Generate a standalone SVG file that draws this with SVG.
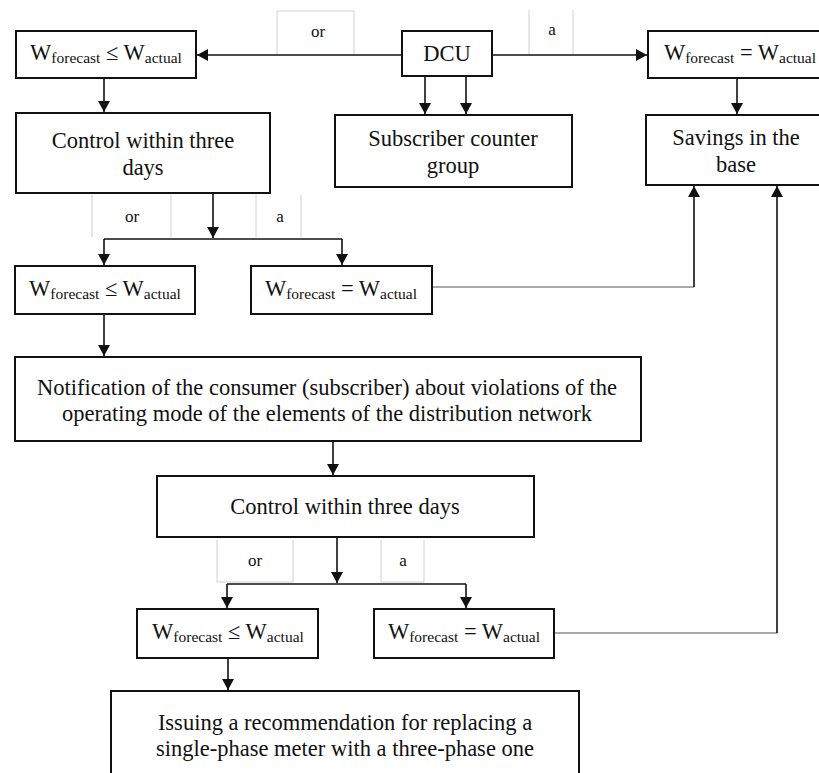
<svg xmlns="http://www.w3.org/2000/svg" width="819" height="773" viewBox="0 0 819 773" font-family="'Liberation Serif', 'DejaVu Serif', serif">
<style>
.box{fill:#fff;stroke:#111;stroke-width:2}
.t{font-family:'Liberation Serif','DejaVu Serif',serif;font-size:22.5px;fill:#111;text-anchor:middle}
.s{font-size:15.5px}
.lbl{font-family:'Liberation Serif','DejaVu Serif',serif;font-size:17px;fill:#111;text-anchor:middle}
.cell{fill:none;stroke:#d0d0d0;stroke-width:1}
.c{fill:none;stroke:#111;stroke-width:1.6}
.thin{fill:none;stroke:#555;stroke-width:1}
</style>
<defs>
<marker id="ah" markerUnits="userSpaceOnUse" markerWidth="11" markerHeight="12" refX="11" refY="6" orient="auto">
<path d="M0,0 L11,6 L0,12 z" fill="#111"/>
</marker>
</defs>
<rect width="819" height="773" fill="#fff"/>
<g id="cells">
<path class="cell" d="M277,55 V11 H354 V55"/>
<path class="cell" d="M529,10 V55 M573,10 V55"/>
<path class="cell" d="M92,195 V237 M171,195 V237 M256,195 V237 M301,195 V237"/>
<path class="cell" d="M217,540 V582 H293 V540 M381,540 V582 H424 V540"/>
<text class="lbl" x="318" y="37">or</text>
<text class="lbl" x="552" y="35">a</text>
<text class="lbl" x="132" y="222">or</text>
<text class="lbl" x="280" y="222">a</text>
<text class="lbl" x="255" y="566">or</text>
<text class="lbl" x="403" y="566">a</text>
</g>
<g id="connectors">
<path class="c" d="M402,55 H197" marker-end="url(#ah)"/>
<path class="c" d="M492,55 H647" marker-end="url(#ah)"/>
<path class="c" d="M425,76 V114" marker-end="url(#ah)"/>
<path class="c" d="M466,76 V114" marker-end="url(#ah)"/>
<path class="c" d="M104,78 V112" marker-end="url(#ah)"/>
<path class="c" d="M737,78 V114" marker-end="url(#ah)"/>
<path class="c" d="M213,193 V238" marker-end="url(#ah)"/>
<path class="c" d="M104,239 H342"/>
<path class="c" d="M104,239 V265" marker-end="url(#ah)"/>
<path class="c" d="M342,239 V265" marker-end="url(#ah)"/>
<path class="c" d="M104,314 V356" marker-end="url(#ah)"/>
<path class="thin" d="M432,287 H694"/>
<path class="c" d="M694,287 V186" marker-end="url(#ah)"/>
<path class="c" d="M333,441 V475" marker-end="url(#ah)"/>
<path class="c" d="M337,537 V583" marker-end="url(#ah)"/>
<path class="c" d="M227,584 H466"/>
<path class="c" d="M227,584 V608" marker-end="url(#ah)"/>
<path class="c" d="M466,584 V608" marker-end="url(#ah)"/>
<path class="c" d="M228,658 V690" marker-end="url(#ah)"/>
<path class="thin" d="M554,633 H777"/>
<path class="c" d="M777,633 V186" marker-end="url(#ah)"/>
</g>
<g id="dcu">
<rect class="box" x="402" y="31" width="90" height="45"/>
<text class="t" x="447" y="61">DCU</text>
</g>
<g id="wle1">
<rect class="box" x="16" y="31" width="180" height="47"/>
<text class="t" x="106" y="60">W<tspan class="s" dy="3">forecast</tspan><tspan dy="-3"> ≤ W</tspan><tspan class="s" dy="3">actual</tspan></text>
</g>
<g id="weq1">
<rect class="box" x="648" y="31" width="172" height="47"/>
<text class="t" x="740" y="60">W<tspan class="s" dy="3">forecast</tspan><tspan dy="-3"> = W</tspan><tspan class="s" dy="3">actual</tspan></text>
</g>
<g id="control1">
<rect class="box" x="16" y="113" width="254" height="80"/>
<text class="t" x="143" y="148">Control within three</text>
<text class="t" x="143" y="175">days</text>
</g>
<g id="subscriber">
<rect class="box" x="335" y="115" width="237" height="72"/>
<text class="t" x="453" y="146">Subscriber counter</text>
<text class="t" x="453" y="173">group</text>
</g>
<g id="savings">
<rect class="box" x="646" y="115" width="174" height="70"/>
<text class="t" x="736" y="145">Savings in the</text>
<text class="t" x="736" y="172">base</text>
</g>
<g id="wle2">
<rect class="box" x="15" y="266" width="180" height="48"/>
<text class="t" x="105" y="296">W<tspan class="s" dy="3">forecast</tspan><tspan dy="-3"> ≤ W</tspan><tspan class="s" dy="3">actual</tspan></text>
</g>
<g id="weq2">
<rect class="box" x="251" y="266" width="181" height="48"/>
<text class="t" x="341" y="296">W<tspan class="s" dy="3">forecast</tspan><tspan dy="-3"> = W</tspan><tspan class="s" dy="3">actual</tspan></text>
</g>
<g id="notification">
<rect class="box" x="15" y="357" width="626" height="84"/>
<text class="t" x="327" y="395">Notification of the consumer (subscriber) about violations of the</text>
<text class="t" x="327" y="421">operating mode of the elements of the distribution network</text>
</g>
<g id="control2">
<rect class="box" x="157" y="476" width="377" height="61"/>
<text class="t" x="345" y="514">Control within three days</text>
</g>
<g id="wle3">
<rect class="box" x="137" y="609" width="181" height="49"/>
<text class="t" x="228" y="639">W<tspan class="s" dy="3">forecast</tspan><tspan dy="-3"> ≤ W</tspan><tspan class="s" dy="3">actual</tspan></text>
</g>
<g id="weq3">
<rect class="box" x="374" y="609" width="180" height="49"/>
<text class="t" x="464" y="639">W<tspan class="s" dy="3">forecast</tspan><tspan dy="-3"> = W</tspan><tspan class="s" dy="3">actual</tspan></text>
</g>
<g id="issuing">
<rect class="box" x="111" y="691" width="468" height="100"/>
<text class="t" x="345" y="730">Issuing a recommendation for replacing a</text>
<text class="t" x="345" y="756">single-phase meter with a three-phase one</text>
</g>
</svg>
